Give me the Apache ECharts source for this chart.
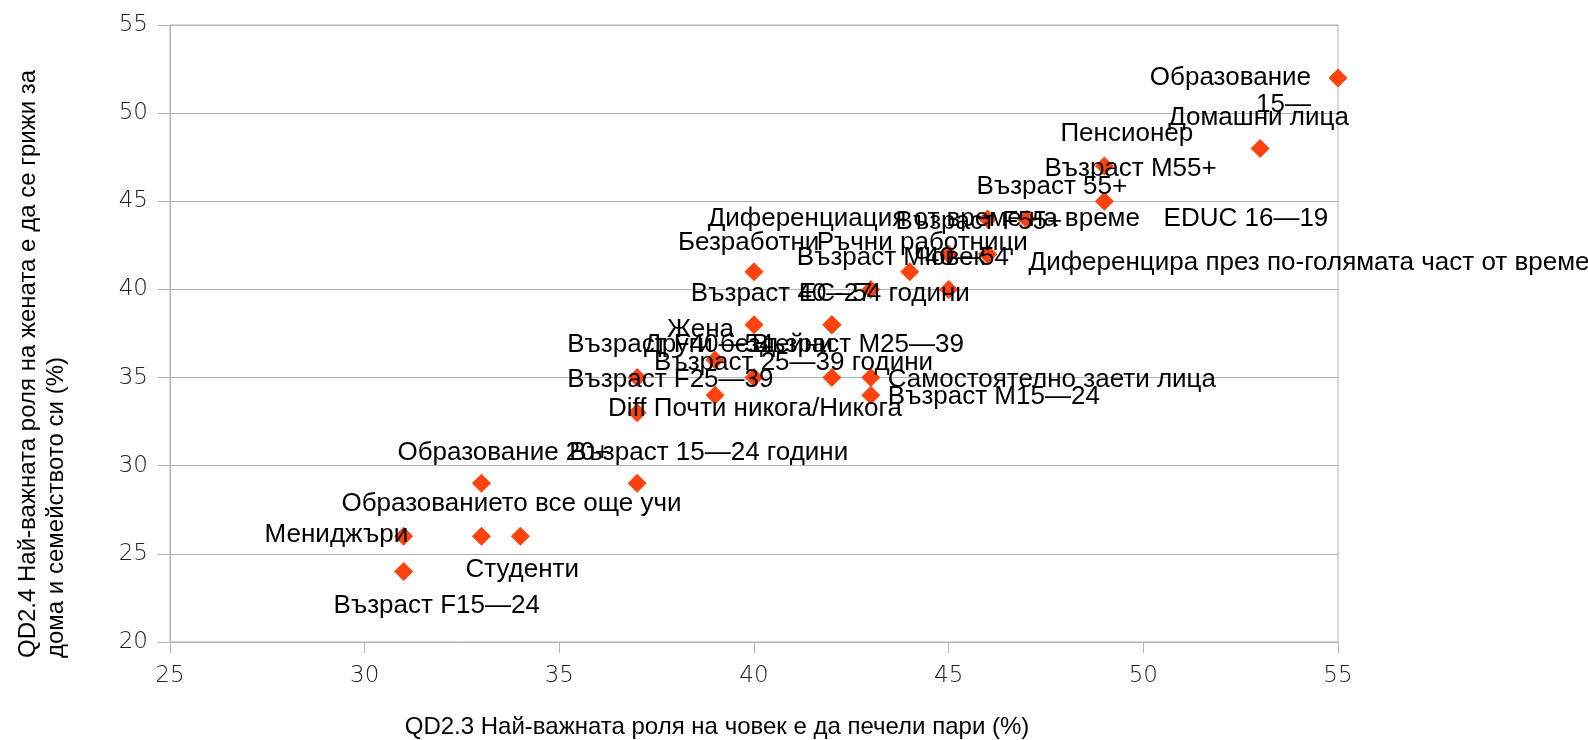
<!DOCTYPE html>
<html>
<head>
<meta charset="utf-8">
<script src="https://cdn.jsdelivr.net/npm/echarts@6/dist/echarts.min.js"></script>
<style>
html, body { margin: 0; padding: 0; background: #ffffff; }
#chart { width: 1588px; height: 740px; }
</style>
</head>
<body>
<div id="chart"></div>
<script>
// ---- DATA ----
const names = [
  'Образование 15—',
  'Домашни лица',
  'Пенсионер',
  'Възраст M55+',
  'Възраст 55+',
  'EDUC 16—19',
  'Диференциация от време на време',
  'Възраст F55+',
  'Безработни',
  'Ръчни работници',
  'Възраст M40—54',
  'Човек',
  'Диференцира през по-голямата част от времето',
  'Възраст 40—54 години',
  'ЕС-27',
  'Жена',
  'Възраст F40—54',
  'Други бездейни',
  'Възраст M25—39',
  'Възраст 25—39 години',
  'Възраст F25—39',
  'Самостоятелно заети лица',
  'Възраст M15—24',
  'Diff Почти никога/Никога',
  'Образование 20+',
  'Възраст 15—24 години',
  'Образованието все още учи',
  'Мениджъри',
  'Студенти',
  'Възраст F15—24'
];
const xValues = [55, 53, 49, 49, 47, 46, 45, 46, 40, 44, 43, 45, 46, 42, 42, 40, 37, 39, 42, 39, 37, 43, 43, 40, 33, 37, 33, 31, 34, 31];
const yValues = [52, 48, 47, 45, 44, 44, 42, 42, 41, 41, 40, 40, 42, 38, 38, 38, 35, 36, 35, 34, 33, 35, 34, 35, 29, 29, 26, 26, 26, 24];

const xTickMin = 25, xTickMax = 55, xTickStep = 5;
const yTickMin = 20, yTickMax = 55, yTickStep = 5;

const xTitle = 'QD2.3 Най-важната роля на човек е да печели пари (%)';
const yTitleLines = ['QD2.4 Най-важната роля на жената е да се грижи за', 'дома и семейството си (%)'];

// ---- STYLE: label placement relative to each marker centre ----
// [dx of text anchor, dy of text vertical centre, align]
const labelShift = [
  [-27, 13, 'right'], [-92, -31], [-44, -32], [-60, -32], [-50, -32], [176, 0], [-241, -35], [-92, -32],
  [-76, -29], [-93, -29], [-74, -32], [-35, -32], [41, 9], [-141, -31], [-33, -31], [-87, 5],
  [-70, -33], [-71, -15], [-80, -33], [-61, -32], [-70, -33], [17, 2], [17, 2], [-146, 31],
  [-84, -31], [-68, -31], [-140, -32], [-139, -1], [-55, 34], [-70, 34]
];
const wrapFirstSpace = [0];  // labels drawn on two lines

const MARK = '#ff420e';
const GRIDC = '#b3b3b3';
const LABEL_FONT = 'Liberation Sans';
const SYM = 19;

const seriesData = names.map((n, i) => {
  const s = labelShift[i];
  const label = {
    show: true,
    position: [SYM / 2 + s[0], SYM / 2 + s[1]],
    align: s[2] || 'left',
    verticalAlign: 'middle',
    color: '#000000',
    fontFamily: LABEL_FONT,
    fontSize: 26,
    lineHeight: 27
  };
  if (wrapFirstSpace.indexOf(i) >= 0) {
    label.formatter = (p) => p.name.replace(' ', '\n');
  }
  return { name: n, value: [xValues[i], yValues[i]], label: label };
});

const chart = echarts.init(document.getElementById('chart'), null, { renderer: 'canvas' });
chart.setOption({
  animation: false,
  backgroundColor: '#ffffff',
  grid: {
    left: 170, right: 250, top: 25, bottom: 98,
    containLabel: false, outerBoundsMode: 'none',
    show: true, borderColor: GRIDC, borderWidth: 1, backgroundColor: 'transparent'
  },
  xAxis: {
    type: 'value', min: xTickMin, max: xTickMax, interval: xTickStep,
    name: xTitle, nameLocation: 'middle', nameGap: 73,
    nameTextStyle: { fontFamily: LABEL_FONT, fontSize: 24, color: '#000', padding: [0, 74, 0, 0] },
    axisLine: { show: true, lineStyle: { color: GRIDC, width: 1 } },
    axisTick: { show: true, inside: false, length: 11, lineStyle: { color: GRIDC } },
    splitLine: { show: false },
    axisLabel: { margin: 23, fontFamily: 'DejaVu Sans', fontWeight: 300, fontSize: 23, color: '#222' }
  },
  yAxis: {
    type: 'value', min: yTickMin, max: yTickMax, interval: yTickStep,
    axisLine: { show: true, lineStyle: { color: GRIDC, width: 1 } },
    axisTick: { show: true, inside: false, length: 12, lineStyle: { color: GRIDC } },
    splitLine: { show: true, lineStyle: { color: GRIDC, width: 1 } },
    axisLabel: { margin: 22, fontFamily: 'DejaVu Sans', fontWeight: 300, fontSize: 23, color: '#222' }
  },
  graphic: [{
    type: 'text',
    x: 14, y: 658,
    rotation: Math.PI / 2,
    style: {
      text: yTitleLines.join('\n'),
      fontFamily: LABEL_FONT, fontSize: 24, lineHeight: 28,
      fill: '#000', align: 'left', verticalAlign: 'top'
    }
  }],
  series: [{
    type: 'scatter',
    symbol: 'diamond',
    symbolSize: SYM,
    itemStyle: { color: MARK, opacity: 1 },
    label: {
      show: true, formatter: '{b}', color: '#000000',
      fontFamily: LABEL_FONT, fontSize: 26
    },
    labelLayout: { hideOverlap: false },
    emphasis: { disabled: true },
    data: seriesData
  }]
});
</script>
</body>
</html>
